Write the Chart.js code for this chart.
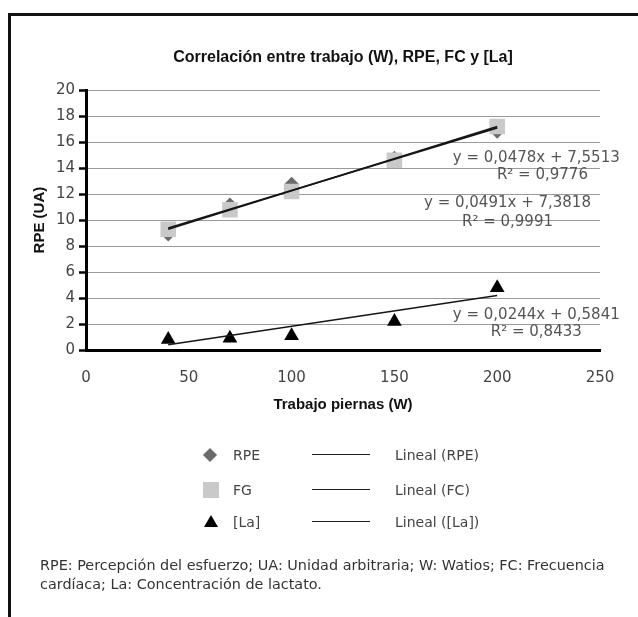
<!DOCTYPE html>
<html lang="es">
<head>
<meta charset="utf-8">
<title>Correlación entre trabajo (W), RPE, FC y [La]</title>
<script src="https://cdn.jsdelivr.net/npm/chart.js@4.4.1/dist/chart.umd.min.js"></script>
<style>
  html, body { margin: 0; padding: 0; background: #fff; }
  body { width: 638px; height: 617px; position: relative; overflow: hidden; }
  .frame { position: absolute; left: 8px; top: 13px; right: -10px; bottom: -10px;
           border-left: 3px solid #111; border-top: 3px solid #111; }
  #wrap { position: absolute; left: 0; top: 0; width: 638px; height: 420px; }
  #legend { position: absolute; left: 0; top: 0; width: 638px; height: 617px;
            font-family: 'DejaVu Sans', sans-serif; font-size: 14px; color: #444; }
  .leg-row { position: absolute; left: 0; width: 638px; height: 20px; line-height: 20px; }
  .leg-mark { position: absolute; }
  .m-diamond { left: 205px; top: 5px; width: 10px; height: 10px; background: #6a6a6a; transform: rotate(45deg); }
  .m-square  { left: 203px; top: 2px; width: 16px; height: 16px; background: #c9c9c9; }
  .m-tri     { left: 204px; top: 3px; width: 0; height: 0; border-left: 7px solid transparent;
               border-right: 7px solid transparent; border-bottom: 12px solid #000; }
  .leg-label { position: absolute; left: 233px; top: 0; }
  .leg-line  { position: absolute; left: 312px; top: 9px; width: 58px; height: 0; border-top: 1.5px solid #222; }
  .leg-trend { position: absolute; left: 395px; top: 0; }
  #note { position: absolute; left: 40px; top: 556px; width: 598px;
          font-family: 'DejaVu Sans', sans-serif; font-size: 14.4px; line-height: 19px; color: #333; }
</style>
</head>
<body>
<div class="frame"></div>
<div id="wrap"><canvas id="chart"></canvas></div>
<div id="legend"></div>
<div id="note">RPE: Percepción del esfuerzo; UA: Unidad arbitraria; W: Watios; FC: Frecuencia<br>cardíaca; La: Concentración de lactato.</div>

<script>
'use strict';

/* data */
const workW    = [40, 70, 100, 150, 200];
const rpe      = [8.9, 11.2, 12.8, 14.8, 16.8];
const fc       = [9.3, 10.8, 12.2, 14.6, 17.2];
const la       = [0.8, 0.9, 1.1, 2.2, 4.8];

const trendX   = [40, 200];
const rpeTrend = [9.4, 17.1];
const fcTrend  = [9.3, 17.2];
const laTrend  = [0.4, 4.2];

const xTicks = [0, 50, 100, 150, 200, 250];
const yTicks = [0, 2, 4, 6, 8, 10, 12, 14, 16, 18, 20];

/* trendline equations, anchored in data units */
const eqText = ['y = 0,0478x + 7,5513', 'R² = 0,9776',
                'y = 0,0491x + 7,3818', 'R² = 0,9991',
                'y = 0,0244x + 0,5841', 'R² = 0,8433'];
const eqAtX  = [219, 222, 205, 205, 219, 219];
const eqAtY  = [14.77, 13.46, 11.28, 9.87, 2.69, 1.38];

const legendRows = [
  { mark: 'm-diamond', label: 'RPE',  trend: 'Lineal (RPE)' },
  { mark: 'm-square',  label: 'FG',   trend: 'Lineal (FC)' },
  { mark: 'm-tri',     label: '[La]', trend: 'Lineal ([La])' },
];
const legendRowTop = [445, 480, 512];

const FONT_SANS = "'DejaVu Sans', sans-serif";
const FONT_BOLD = "'Liberation Sans', Arial, sans-serif";

const pts = (xs, ys) => xs.map((x, i) => ({ x, y: ys[i] }));

function trendSet(label, ys) {
  return {
    type: 'line', label, data: pts(trendX, ys),
    borderColor: '#161616', borderWidth: 1.6, pointRadius: 0, fill: false,
  };
}

/* draws the trendline equations next to the lines */
const equationPlugin = {
  id: 'equations',
  afterDatasetsDraw(chart) {
    const { ctx, scales: { x, y } } = chart;
    ctx.save();
    ctx.font = `15px ${FONT_SANS}`;
    ctx.fillStyle = '#555';
    ctx.textAlign = 'center';
    ctx.textBaseline = 'middle';
    eqText.forEach((t, i) => {
      ctx.fillText(t, x.getPixelForValue(eqAtX[i]), y.getPixelForValue(eqAtY[i]));
    });
    ctx.restore();
  },
};

new Chart(document.getElementById('chart'), {
  type: 'scatter',
  data: {
    datasets: [
      trendSet('Lineal (RPE)', rpeTrend),
      trendSet('Lineal (FC)', fcTrend),
      trendSet('Lineal ([La])', laTrend),
      {
        label: 'FC', data: pts(workW, fc),
        pointStyle: 'rect', pointRadius: 11, pointHoverRadius: 11,
        backgroundColor: '#c9c9c9', borderColor: '#c9c9c9', borderWidth: 0,
      },
      {
        label: 'RPE', data: pts(workW, rpe),
        pointStyle: 'rectRot', pointRadius: 7, pointHoverRadius: 7,
        backgroundColor: '#6a6a6a', borderColor: '#6a6a6a', borderWidth: 0,
      },
      {
        label: '[La]', data: pts(workW, la),
        pointStyle: 'triangle', pointRadius: 8.5, pointHoverRadius: 8.5,
        backgroundColor: '#000', borderColor: '#000', borderWidth: 0,
      },
    ],
  },
  options: {
    responsive: true,
    maintainAspectRatio: false,
    animation: false,
    events: [],
    layout: { padding: { left: 20, right: 38, top: 0, bottom: 0 } },
    plugins: {
      legend: { display: false },
      tooltip: { enabled: false },
      title: {
        display: true,
        fullSize: false,
        text: 'Correlación entre trabajo (W), RPE, FC y [La]',
        color: '#111',
        font: { family: FONT_BOLD, size: 16, weight: 'bold' },
        padding: { top: 48, bottom: 23 },
      },
    },
    scales: {
      x: {
        type: 'linear', min: 0, max: 250,
        afterBuildTicks: s => { s.ticks = xTicks.map(v => ({ value: v })); },
        afterFit: s => { s.height = 70; },
        grid: { display: false, drawTicks: false },
        border: { display: true, color: '#000', width: 3 },
        ticks: { color: '#444', padding: 19, font: { family: FONT_SANS, size: 15 } },
        title: {
          display: true, text: 'Trabajo piernas (W)', color: '#111',
          font: { family: FONT_BOLD, size: 15, weight: 'bold' },
          padding: { top: 0, bottom: 6 },
        },
      },
      y: {
        type: 'linear', min: 0, max: 20,
        afterBuildTicks: s => { s.ticks = yTicks.map(v => ({ value: v })); },
        afterFit: s => { s.width = 66; },
        grid: { color: '#9a9a9a', lineWidth: 1, tickColor: '#000', tickLength: 7, tickWidth: 2.5 },
        border: { display: true, color: '#000', width: 3 },
        ticks: { color: '#444', padding: 4, font: { family: FONT_SANS, size: 15 } },
        title: {
          display: true, text: 'RPE (UA)', color: '#111',
          font: { family: FONT_BOLD, size: 15, weight: 'bold' },
          padding: { top: 11, bottom: 0 },
        },
      },
    },
  },
  plugins: [equationPlugin],
});

/* legend: markers + trendline swatches, two columns */
function setLegend(rows) {
  document.getElementById('legend').innerHTML = rows
    .map((r, i) =>
      `<div class="leg-row" style="top:${legendRowTop[i]}px">
         <span class="leg-mark ${r.mark}"></span>
         <span class="leg-label">${r.label}</span>
         <span class="leg-line"></span>
         <span class="leg-trend">${r.trend}</span>
       </div>`)
    .join('');
}
setLegend(legendRows);
</script>
</body>
</html>
